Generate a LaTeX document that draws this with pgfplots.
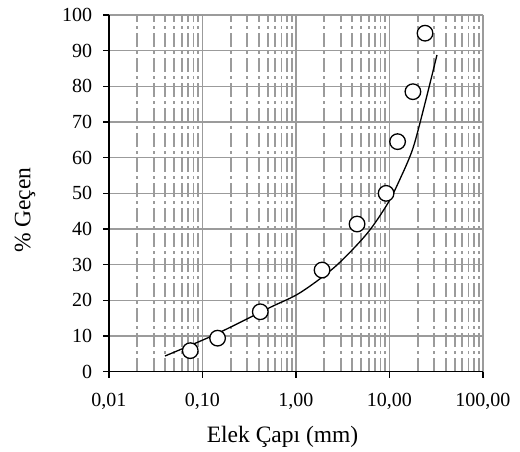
\documentclass[border=0pt]{standalone}
\usepackage{fontspec}
\setmainfont{Liberation Serif}
\usepackage{pgfplots}
\pgfplotsset{compat=1.18}
\definecolor{gridgray}{RGB}{155,155,155}
\begin{document}
\fontsize{20}{24}\selectfont
\begin{tikzpicture}
\path[use as bounding box] (-109pt,-79.3pt) rectangle (411pt,371.7pt);
\begin{axis}[
  at={(0pt,0pt)}, anchor=south west,
  scale only axis, width=374pt, height=356.7pt,
  xmode=log, log basis x=10,
  xmin=0.01, xmax=100, ymin=0, ymax=100,
  xtick={0.01,0.1,1,10,100},
  xticklabels={0{,}01,0{,}10,1{,}00,10{,}00,100{,}00},
  minor xtick={0.02,0.03,0.04,0.05,0.06,0.07,0.08,0.09,0.2,0.3,0.4,0.5,0.6,0.7,0.8,0.9,2,3,4,5,6,7,8,9,20,30,40,50,60,70,80,90},
  ytick={0,10,20,30,40,50,60,70,80,90,100},
  /pgf/number format/assume math mode=true,
  xmajorgrids=true, xminorgrids=true, ymajorgrids=true,
  major grid style={gridgray, line width=1.4pt},
  minor grid style={gridgray, line width=1.8pt, dash pattern=on 14pt off 4pt on 2.5pt off 4.5pt},
  axis x line*=bottom, axis y line*=left,
  axis line style={black, line width=1.5pt, -},
  major tick style={black, line width=1.3pt},
  major tick length=6pt, minor tick length=0pt,
  tick align=outside,
  ticklabel style={font=\fontsize{20}{24}\selectfont},
  xticklabel style={yshift=-9pt},
  yticklabel style={xshift=-4pt},
  xlabel={Elek Çapı (mm)},
  ylabel={\% Geçen},
  label style={font=\fontsize{23.5}{28}\selectfont},
  xlabel style={at={(axis description cs:0.464,-0.182)}, anchor=center},
  ylabel style={at={(axis description cs:-0.2246,0.453)}, anchor=center},
]
\addplot[only marks, mark=*, mark size=7.8pt, mark options={fill=white, draw=black, line width=1.3pt}]
coordinates {(0.074,5.9) (0.145,9.4) (0.415,16.8) (1.9,28.5) (4.5,41.4) (9.2,50.0) (12.2,64.5) (17.8,78.5) (24,94.9)};
\addplot[black, line width=1.3pt, smooth, tension=0.5, no marks]
coordinates {(0.0397,4.4) (0.136,10.4) (0.527,18.0) (1.10,22.1) (2.61,29.4) (5.74,38.7) (9.64,47.3) (12.9,53.9) (17.8,62.6) (24.0,75.3) (32.2,88.8)};
\end{axis}
\end{tikzpicture}
\end{document}
